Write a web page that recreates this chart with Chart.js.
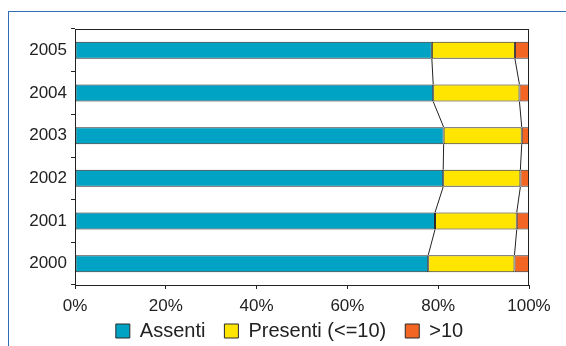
<!DOCTYPE html>
<html>
<head>
<meta charset="utf-8">
<script src="https://cdn.jsdelivr.net/npm/chart.js@4/dist/chart.umd.min.js"></script>
<style>
  html, body { margin: 0; padding: 0; background: #fff; overflow: hidden; }
  #wrap { position: relative; width: 566px; height: 346px; }
  #frame {
    position: absolute; left: 8px; top: 11px; right: -10px; bottom: -10px;
    border-left: 1px solid #2f6db5; border-top: 1px solid #2f6db5;
  }
  #chart { position: absolute; left: 0; top: 0; }
</style>
</head>
<body>
<div id="wrap">
  <div id="frame"></div>
  <canvas id="chart" width="566" height="346"></canvas>
</div>
<script>
// ── Data ─────────────────────────────────────
const YEARS    = ['2005', '2004', '2003', '2002', '2001', '2000'];
const ASSENTI  = [78.6, 78.9, 81.2, 81.1, 79.3, 77.8];
const PRESENTI = [18.3, 19.0, 17.2, 17.0, 18.0, 19.0];
const OLTRE    = [3.1, 2.1, 1.6, 1.9, 2.7, 3.2];
const X_TICKS  = [0, 20, 40, 60, 80, 100];

const FONT = "'Liberation Sans', Arial, sans-serif";
const INK  = '#222';

// ── Plot frame + Excel-style series lines ────
const seriesLines = {
  id: 'seriesLines',
  afterLayout(chart) {
    // nudge the legend row down/right to sit like the original
    const lg = chart.legend;
    lg.top = 302;
    lg.left += 25;
    lg.right += 25;
  },
  afterDatasetsDraw(chart) {
    const ctx = chart.ctx;
    const a = chart.chartArea;
    ctx.save();
    ctx.strokeStyle = '#222';
    ctx.lineWidth = 1;
    ctx.strokeRect(a.left + 0.5, a.top + 0.5, a.right - a.left - 1, a.bottom - a.top);
    // lines joining segment ends of neighbouring bars
    [0, 1].forEach(ds => {
      const bars = chart.getDatasetMeta(ds).data;
      for (let i = 0; i < bars.length - 1; i++) {
        const p = bars[i].getProps(['x', 'y', 'height'], true);
        const q = bars[i + 1].getProps(['x', 'y', 'height'], true);
        ctx.beginPath();
        ctx.moveTo(p.x, p.y + p.height / 2);
        ctx.lineTo(q.x, q.y - q.height / 2);
        ctx.stroke();
      }
    });
    ctx.restore();
  },
};

const bar = (label, data, color) => ({
  label,
  data,
  backgroundColor: color,
  borderColor:     '#2a2a2a',
  borderWidth:     1,
  borderSkipped:   false,
  barPercentage:   0.4,
  categoryPercentage: 1,
});

new Chart(document.getElementById('chart'), {
  type: 'bar',
  data: {
    labels: YEARS,
    datasets: [
      bar('Assenti',          ASSENTI,  '#00a3c4'),
      bar('Presenti (<=10)',  PRESENTI, '#ffe500'),
      bar('>10',              OLTRE,    '#f26522'),
    ],
  },
  options: {
    indexAxis: 'y',
    responsive: false,
    animation: false,
    layout: { padding: { top: 29, right: 37, left: 0, bottom: 0 } },
    plugins: {
      tooltip: { enabled: false },
      legend: {
        position: 'bottom',
        maxHeight: 30,
        labels: {
          boxWidth: 14, boxHeight: 14, padding: 19, color: INK,
          font: { family: FONT, size: 20 },
        },
      },
    },
    scales: {
      x: {
        stacked: true,
        min: 0, max: 100,
        afterBuildTicks: s => { s.ticks = X_TICKS.map(v => ({ value: v })); },
        afterFit: s => { s.height = 31; },
        grid: { drawOnChartArea: false, drawTicks: true, tickLength: 4, color: '#222' },
        border: { color: '#222' },
        ticks: {
          callback: v => v + '%', color: INK, padding: 7,
          font: { family: FONT, size: 17 }, maxRotation: 0,
        },
      },
      y: {
        stacked: true,
        afterFit: s => { s.width = 75; },
        grid: { drawOnChartArea: false, drawTicks: true, tickLength: 4, color: '#222' },
        border: { color: '#222' },
        ticks: { color: INK, padding: 4, font: { family: FONT, size: 17 } },
      },
    },
  },
  plugins: [seriesLines],
});
</script>
</body>
</html>
